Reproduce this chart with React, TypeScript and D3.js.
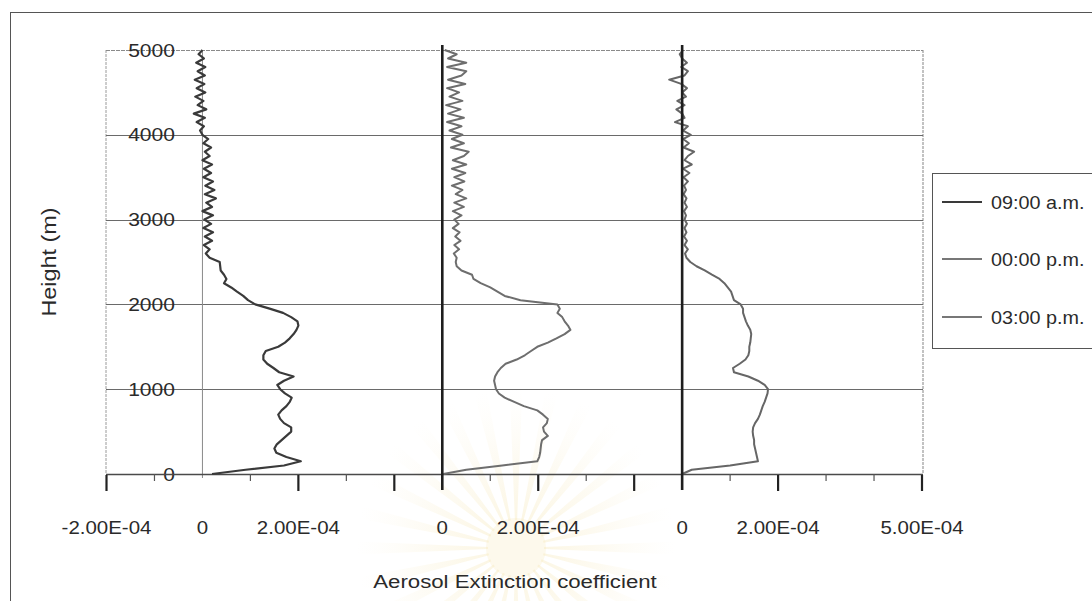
import React from 'react';
import * as d3 from 'd3';

// Height grid (m) shared by all three lidar profiles
const heights = [
  0, 50, 100, 150, 200, 250, 300, 350, 400, 450,
  500, 550, 600, 650, 700, 750, 800, 850, 900, 950,
  1000, 1050, 1100, 1150, 1200, 1250, 1300, 1350, 1400, 1450,
  1500, 1550, 1600, 1650, 1700, 1750, 1800, 1850, 1900, 1950,
  2000, 2050, 2100, 2150, 2200, 2250, 2300, 2350, 2400, 2450,
  2500, 2550, 2600, 2650, 2700, 2750, 2800, 2850, 2900, 2950,
  3000, 3050, 3100, 3150, 3200, 3250, 3300, 3350, 3400, 3450,
  3500, 3550, 3600, 3650, 3700, 3750, 3800, 3850, 3900, 3950,
  4000, 4050, 4100, 4150, 4200, 4250, 4300, 4350, 4400, 4450,
  4500, 4550, 4600, 4650, 4700, 4750, 4800, 4850, 4900, 4950,
  5000,
];

// Aerosol extinction coefficient, in units of 1e-4
const ext0900am = [
  0.2, 0.9, 1.7, 2.05, 1.75, 1.54, 1.5, 1.55, 1.65, 1.75,
  1.85, 1.85, 1.7, 1.62, 1.58, 1.65, 1.75, 1.82, 1.86, 1.72,
  1.62, 1.56, 1.7, 1.9, 1.6, 1.48, 1.35, 1.27, 1.27, 1.32,
  1.58, 1.72, 1.82, 1.9, 1.96, 2.0, 1.98, 1.85, 1.68, 1.4,
  1.1, 0.95, 0.85, 0.72, 0.6, 0.45, 0.5, 0.45, 0.38, 0.37,
  0.36, 0.15, 0.07, 0.15, 0.03, 0.2, 0.05, 0.22, 0.02, 0.18,
  0.04, 0.22, 0.0, 0.2, 0.08, 0.28, 0.05, 0.25, 0.06, 0.22,
  0.02, 0.18, 0.03, 0.2, 0.0, 0.15, 0.05, 0.18, 0.02, 0.12,
  0.0, -0.05, 0.03, -0.12, 0.05, -0.18, 0.08, -0.1, 0.02, -0.15,
  0.06, -0.12, 0.04, -0.16, 0.05, -0.1, 0.06, -0.13, 0.03, -0.08,
  0.0,
];

const ext0000pm = [
  0.02, 0.5, 1.25, 1.98, 2.02, 2.04, 2.05, 2.06, 2.08, 2.2,
  2.12, 2.1, 2.18, 2.2, 2.1, 1.98, 1.7, 1.5, 1.3, 1.18,
  1.12, 1.1, 1.08, 1.1, 1.15, 1.22, 1.32, 1.55, 1.72, 1.85,
  1.98, 2.2, 2.38, 2.55, 2.67, 2.62, 2.55, 2.5, 2.4, 2.45,
  2.4, 1.63, 1.3, 1.15, 1.0, 0.8, 0.65, 0.62, 0.4, 0.3,
  0.28, 0.3, 0.24, 0.35, 0.25, 0.38, 0.27, 0.36, 0.22, 0.34,
  0.25, 0.4, 0.22, 0.45, 0.25, 0.5, 0.28, 0.42, 0.2, 0.46,
  0.25, 0.48, 0.2, 0.5, 0.22, 0.45, 0.55, 0.18, 0.45, 0.2,
  0.42, 0.15, 0.4, 0.1, 0.45, 0.12, 0.38, 0.08, 0.42, 0.15,
  0.35, 0.1, 0.48, 0.12, 0.4, 0.5, 0.1, 0.5, 0.12, 0.3,
  0.05,
];

const ext0300pm = [
  0.0, 0.2, 1.0, 1.58, 1.56, 1.54, 1.52, 1.5, 1.5, 1.48,
  1.47, 1.48, 1.52, 1.58, 1.62, 1.65, 1.68, 1.72, 1.75, 1.78,
  1.79, 1.72, 1.58, 1.38, 1.08, 1.06, 1.2, 1.32, 1.38, 1.4,
  1.4, 1.42, 1.43, 1.44, 1.42, 1.37, 1.33, 1.3, 1.27, 1.27,
  1.22, 1.08, 1.05, 1.02, 0.95, 0.88, 0.78, 0.62, 0.47, 0.3,
  0.17, 0.09, 0.06, 0.12, 0.05, 0.1, 0.04, 0.09, 0.05, 0.1,
  0.05, 0.08, 0.04, 0.1, 0.05, 0.09, 0.03, 0.08, 0.04, 0.12,
  0.03, 0.15, 0.02, 0.2, 0.05, 0.12, 0.25, 0.03, 0.14, 0.02,
  0.18, 0.02, 0.12, -0.15, 0.05, 0.0, -0.12, 0.05, -0.1, 0.08,
  0.0, 0.1, -0.02, -0.27, 0.05, 0.12, -0.02, 0.1, 0.0, -0.05,
  0.02,
];

const UNIT = 1e-4;

const seriesNames = ['09:00 a.m.', '00:00 p.m.', '03:00 p.m.'];
const seriesValues = [ext0900am, ext0000pm, ext0300pm];
// each profile is shifted along the shared x axis so the three sit side by side
const panelOffsets = [0, 5e-4, 1e-3];
const seriesColors = ['#3a3a3a', '#6e6e6e', '#666666'];
const seriesWidths = [2.2, 2, 2];

const yTicks = [0, 1000, 2000, 3000, 4000, 5000];
const xLabelPositions = [-2e-4, 0, 2e-4, 5e-4, 7e-4, 1e-3, 1.2e-3, 1.5e-3];
const xLabelTexts = ['-2.00E-04', '0', '2.00E-04', '0', '2.00E-04', '0', '2.00E-04', '5.00E-04'];
const xMajorTicks = [-2e-4, 2e-4, 4e-4, 7e-4, 9e-4, 1.2e-3, 1.5e-3];
const xMinorTicks = [-1e-4, 1e-4, 3e-4, 6e-4, 8e-4, 1.1e-3, 1.3e-3, 1.4e-3];

const W = 1092;
const H = 601;
const plot = { left: 106, right: 923, top: 50, bottom: 474 };
const FONT = "'Liberation Sans', Arial, Helvetica, sans-serif";
const INK = '#2a2a2a';

type STextProps = {
  x: number;
  y: number;
  size: number;
  sx?: number;
  rotate?: number;
  anchor?: 'start' | 'middle' | 'end';
  children: React.ReactNode;
};

// Text with a slight horizontal widening, like the chart's original typeface
function SText({ x, y, size, sx = 1.17, rotate = 0, anchor = 'start', children }: STextProps) {
  return (
    <text
      transform={`translate(${x},${y}) rotate(${rotate}) scale(${sx},1)`}
      textAnchor={anchor}
      fontSize={size}
      fontFamily={FONT}
      fill={INK}
    >
      {children}
    </text>
  );
}

function Seal() {
  // faint sunburst emblem printed behind the axis title
  const cx = 516;
  const cy = 548;
  const rays = d3.range(28);
  const arc = d3.arc<number>()
    .innerRadius(28)
    .outerRadius(160)
    .startAngle((i) => (i / 28) * Math.PI * 2 - 0.04)
    .endAngle((i) => (i / 28) * Math.PI * 2 + 0.04);
  return (
    <g transform={`translate(${cx},${cy})`}>
      <defs>
        <radialGradient id="sealFade" cx="0" cy="0" r="160" gradientUnits="userSpaceOnUse">
          <stop offset="0%" stopColor="#f4e2a6" stopOpacity={0.4} />
          <stop offset="55%" stopColor="#f7ebc4" stopOpacity={0.22} />
          <stop offset="100%" stopColor="#fbf4df" stopOpacity={0} />
        </radialGradient>
      </defs>
      {rays.map((i) => (
        <path key={i} d={arc(i) ?? ''} fill="url(#sealFade)" />
      ))}
      <circle r={30} fill="#f6e6b4" opacity={0.25} />
    </g>
  );
}

export default function App() {
  const x = d3.scaleLinear().domain([-2e-4, 1.5e-3]).range([plot.left + 0.5, plot.right - 1]);
  const y = d3.scaleLinear().domain([0, 5000]).range([plot.bottom, plot.top]);

  const line = d3
    .line<{ h: number; v: number }>()
    .x((d) => x(d.v))
    .y((d) => y(d.h));

  const series = seriesValues.map((vals, si) =>
    vals.map((v, i) => ({ h: heights[i], v: v * UNIT + panelOffsets[si] })),
  );

  const legendRows = [202, 259, 317];

  return (
    <svg
      width={W}
      height={H}
      viewBox={`0 0 ${W} ${H}`}
      style={{ position: 'absolute', left: 0, top: 0, display: 'block', background: '#fff' }}
    >
      <rect x={0} y={0} width={W} height={H} fill="#fff" />
      <Seal />

      {/* chart frame */}
      <rect x={10.5} y={12.5} width={1100} height={620} fill="none" stroke="#555" strokeWidth={1} />

      {/* plot area border */}
      <line x1={plot.left} x2={plot.left} y1={plot.top} y2={plot.bottom} stroke="#9a9a9a" strokeWidth={1} strokeDasharray="3 1" />
      <line x1={plot.right} x2={plot.right} y1={plot.top} y2={plot.bottom} stroke="#9a9a9a" strokeWidth={1.2} strokeDasharray="3 1" />

      {/* horizontal gridlines */}
      {yTicks.slice(1).map((t) => (
        <line
          key={t}
          x1={plot.left}
          x2={plot.right}
          y1={Math.round(y(t)) + 0.5}
          y2={Math.round(y(t)) + 0.5}
          stroke={t === 5000 ? '#8a8a8a' : '#6a6a6a'}
          strokeWidth={1}
          strokeDasharray={t === 5000 ? '4 1' : undefined}
        />
      ))}

      {/* zero line of the first profile */}
      <line x1={x(panelOffsets[0])} x2={x(panelOffsets[0])} y1={plot.top} y2={plot.bottom + 4} stroke="#8a8a8a" strokeWidth={1} />

      {/* y tick labels */}
      {yTicks.map((t) => (
        <SText key={t} x={175} y={y(t) + 6.5} size={18} anchor="end">
          {t}
        </SText>
      ))}

      {/* x axis */}
      <line x1={plot.left} x2={plot.right} y1={plot.bottom + 0.5} y2={plot.bottom + 0.5} stroke="#4a4a4a" strokeWidth={1.5} />
      {xMinorTicks.map((t) => (
        <line key={`mi${t}`} x1={x(t)} x2={x(t)} y1={plot.bottom} y2={plot.bottom + 7} stroke="#555" strokeWidth={1.2} />
      ))}
      {xMajorTicks.map((t) => (
        <line key={`ma${t}`} x1={x(t)} x2={x(t)} y1={plot.bottom + 1} y2={plot.bottom + 17} stroke="#222" strokeWidth={2.2} />
      ))}

      {/* profiles */}
      {series.map((pts, si) => (
        <path
          key={seriesNames[si]}
          d={line(pts) ?? ''}
          fill="none"
          stroke={seriesColors[si]}
          strokeWidth={seriesWidths[si]}
          strokeLinejoin="round"
        />
      ))}

      {/* zero lines of the second and third profiles */}
      {panelOffsets.slice(1).map((o) => (
        <line key={o} x1={x(o)} x2={x(o)} y1={plot.top - 5} y2={plot.bottom + 16} stroke="#1e1e1e" strokeWidth={2.6} />
      ))}

      {/* x tick labels */}
      {xLabelPositions.map((p, i) => (
        <SText key={i} x={x(p)} y={534} size={17.5} anchor="middle">
          {xLabelTexts[i]}
        </SText>
      ))}

      {/* axis titles */}
      <SText x={515} y={588} size={19} anchor="middle">
        Aerosol Extinction coefficient
      </SText>
      <SText x={56} y={262} size={20} anchor="middle" rotate={-90}>
        Height (m)
      </SText>

      {/* legend */}
      <rect x={932.5} y={173.5} width={200} height={175} fill="#fff" stroke="#555" strokeWidth={1} />
      {seriesNames.map((name, i) => (
        <g key={name}>
          <line x1={942} x2={982} y1={legendRows[i]} y2={legendRows[i]} stroke={i === 0 ? '#3a3a3a' : '#777'} strokeWidth={2} />
          <SText x={991} y={legendRows[i] + 7} size={18.5} sx={1.07}>
            {name}
          </SText>
        </g>
      ))}
    </svg>
  );
}
